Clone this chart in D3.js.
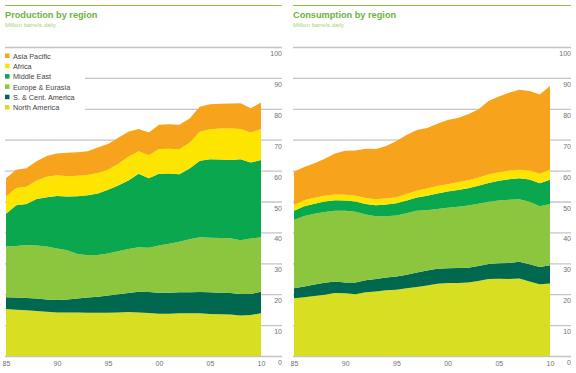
<!DOCTYPE html>
<html>
<head>
<meta charset="utf-8">
<script src="https://cdn.jsdelivr.net/npm/d3@7"></script>
<style>
  body { margin: 0; background: #fff; }
  svg { display: block; font-family: "Liberation Sans", Arial, sans-serif; }
</style>
</head>
<body>
<div id="vis"></div>
<script>
// Years and tick labels
const YEARS = d3.range(1985, 2011);
const X_TICKS = [1985, 1990, 1995, 2000, 2005, 2010];
const X_TICK_LABELS = ["85", "90", "95", "00", "05", "10"];
const Y_TICKS = [0, 10, 20, 30, 40, 50, 60, 70, 80, 90, 100];

// Regions, bottom of stack first
const REGIONS = ["North America", "S. & Cent. America", "Europe & Eurasia", "Middle East", "Africa", "Asia Pacific"];
const COLORS = ["#d8df22", "#00684e", "#8cc63f", "#0ba74f", "#fde500", "#f8a31c"];

// Production, million barrels daily
const PROD_NA  = [15.2,15.0,14.8,14.6,14.3,14.1,14.1,14.1,14.0,14.0,14.0,14.1,14.2,14.1,13.9,13.7,13.7,13.8,13.8,13.8,13.6,13.5,13.4,13.1,13.3,13.8];
const PROD_SCA = [3.8,3.9,4.0,4.0,4.0,4.0,4.2,4.5,4.9,5.2,5.6,5.9,6.2,6.7,6.8,6.8,6.8,6.8,6.8,6.9,7.0,7.0,7.0,7.0,6.8,7.0];
const PROD_EE  = [16.4,16.7,17.1,17.2,17.1,16.7,15.9,14.4,13.7,13.5,13.6,13.9,14.2,14.4,14.3,15.3,15.8,16.4,17.2,17.7,17.7,17.7,17.7,17.4,17.9,17.6];
const PROD_ME  = [10.6,13.2,13.3,15.0,16.0,17.0,17.4,18.7,19.4,19.9,20.6,21.3,22.2,23.8,22.5,23.2,22.8,21.8,22.9,24.8,25.4,25.4,25.3,26.2,24.6,25.0];
const PROD_AF  = [5.6,5.6,5.6,6.0,6.6,6.7,6.6,6.6,6.6,6.6,6.5,7.0,7.7,7.3,7.5,8.0,8.0,8.1,8.3,9.4,9.7,10.0,10.2,9.8,9.7,10.0];
const PROD_AP  = [5.9,5.9,6.0,6.2,6.7,7.0,7.6,7.6,7.7,8.3,8.3,8.4,8.1,7.2,7.3,7.8,7.9,7.9,7.9,8.1,8.1,8.0,8.1,8.3,7.9,8.6];

// Consumption, million barrels daily
const CONS_NA  = [18.7,19.0,19.4,19.8,20.4,20.3,20.0,20.6,20.9,21.3,21.4,21.9,22.3,22.8,23.4,23.6,23.6,23.8,24.3,24.9,25.0,24.9,25.1,24.1,23.2,23.5];
const CONS_SCA = [3.2,3.5,3.7,3.9,3.7,3.5,3.8,3.9,4.0,4.1,4.3,4.4,4.7,4.9,4.8,4.8,4.9,4.8,4.8,4.9,5.0,5.2,5.4,5.6,5.6,5.9];
const CONS_EE  = [22.1,22.8,22.9,22.9,22.9,23.2,22.9,21.3,20.3,19.8,19.8,19.9,20.0,19.5,19.4,19.6,19.8,20.1,20.2,20.1,20.3,20.5,20.2,20.2,19.7,19.8];
const CONS_ME  = [3.0,3.2,3.3,3.4,3.4,3.3,3.3,3.4,3.6,3.8,3.9,4.1,4.3,4.7,5.0,5.2,5.4,5.6,5.8,6.1,6.4,6.6,6.8,7.2,7.4,7.8];
const CONS_AF  = [1.9,1.9,1.9,1.9,1.9,1.9,1.9,1.9,1.9,2.0,2.0,2.1,2.2,2.3,2.4,2.4,2.5,2.6,2.6,2.7,2.8,2.8,2.8,2.9,3.1,3.3];
const CONS_AP  = [10.7,10.8,11.2,11.9,13.2,14.2,14.6,16.0,16.3,17.0,18.2,19.1,19.6,19.6,20.2,20.8,20.8,21.3,22.1,23.8,24.5,25.2,25.9,25.8,25.6,27.1];

const WIDTH = 576, HEIGHT = 373;
const SVG = d3.select("#vis").append("svg")
              .attr("width", WIDTH)
              .attr("height", HEIGHT);

// Y scale shared by both panels
const Y_SCALE = d3.scaleLinear().domain([0, 100]).range([356, 47]);

function toTable(series) {
  return YEARS.map((yr, i) => {
    let row = {year: yr};
    REGIONS.forEach((r, j) => { row[r] = series[j][i]; });
    return row;
  });
}

function drawPanel(opts) {
  const g = SVG.append("g");
  const X_SCALE = d3.scaleLinear().domain([1985, 2010]).range([opts.plotLeft, opts.plotRight]);

  // top rule
  g.append("line")
    .attr("x1", opts.left).attr("x2", opts.right)
    .attr("y1", 5.5).attr("y2", 5.5)
    .attr("stroke", "#8cc63f").attr("stroke-width", 1.2);

  // title and subtitle
  g.append("text")
    .attr("x", opts.left).attr("y", 18)
    .attr("font-size", "9.2px").attr("font-weight", "bold")
    .attr("fill", "#6db33f")
    .text(opts.title);
  g.append("text")
    .attr("x", opts.left).attr("y", 27)
    .attr("font-size", "6px")
    .attr("fill", "#a9d474")
    .text("Million barrels daily");

  // gridlines
  g.append("g").selectAll("line")
    .data(Y_TICKS)
    .enter()
    .append("line")
      .attr("x1", (d) => { return (opts.legend && (d == 90 || d == 80)) ? 85 : opts.left; })
      .attr("x2", opts.right)
      .attr("y1", (d) => { return Y_SCALE(d) + 0.5; })
      .attr("y2", (d) => { return Y_SCALE(d) + 0.5; })
      .attr("stroke", "#c4c4c4")
      .attr("stroke-width", 1.3);

  // y labels, right aligned below each gridline
  g.append("g").selectAll("text")
    .data(Y_TICKS)
    .enter()
    .append("text")
      .attr("x", opts.right)
      .attr("y", (d) => { return Y_SCALE(d) + 9; })
      .attr("text-anchor", "end")
      .attr("font-size", "7px")
      .attr("fill", "#707070")
      .text((d) => d);

  // stacked areas
  const table = toTable(opts.series);
  const stacked = d3.stack().keys(REGIONS)(table);
  const area = d3.area()
    .x((d) => X_SCALE(d.data.year))
    .y0((d) => Y_SCALE(d[0]))
    .y1((d) => Y_SCALE(d[1]));

  g.append("g").selectAll("path")
    .data(stacked)
    .enter()
    .append("path")
      .attr("d", area)
      .attr("fill", (d, i) => COLORS[i]);

  // x axis labels
  const xAxis = g.append("g")
    .attr("transform", "translate(0," + (Y_SCALE(0) + 1) + ")")
    .call(d3.axisBottom(X_SCALE)
            .tickValues(X_TICKS)
            .tickSize(0)
            .tickPadding(4)
            .tickFormat((d, i) => X_TICK_LABELS[i]));
  xAxis.select(".domain").remove();
  xAxis.selectAll("text")
    .attr("font-size", "7px")
    .attr("font-family", "Liberation Sans, Arial, sans-serif")
    .attr("fill", "#707070");

  // legend
  if (opts.legend) {
    const legendOrder = REGIONS.map((r, i) => ({name: r, color: COLORS[i]})).reverse();
    const lg = g.append("g").selectAll("g")
      .data(legendOrder)
      .enter()
      .append("g")
        .attr("transform", (d, i) => "translate(5," + (56 + i * 10.3) + ")");
    lg.append("rect")
      .attr("x", 0).attr("y", -2.5)
      .attr("width", 4.5).attr("height", 4.5)
      .attr("fill", (d) => d.color);
    lg.append("text")
      .attr("x", 8).attr("y", 2.6)
      .attr("font-size", "7.3px")
      .attr("fill", "#444")
      .text((d) => d.name);
  }
}

drawPanel({
  title: "Production by region",
  left: 5, right: 282, plotLeft: 6, plotRight: 261,
  legend: true,
  series: [PROD_NA, PROD_SCA, PROD_EE, PROD_ME, PROD_AF, PROD_AP]
});

drawPanel({
  title: "Consumption by region",
  left: 293, right: 571, plotLeft: 294, plotRight: 550,
  legend: false,
  series: [CONS_NA, CONS_SCA, CONS_EE, CONS_ME, CONS_AF, CONS_AP]
});
</script>
</body>
</html>
